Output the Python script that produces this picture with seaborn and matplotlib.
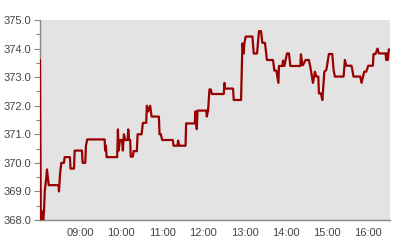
import matplotlib
matplotlib.use("Agg")
import matplotlib.pyplot as plt
import matplotlib.dates as mdates
from matplotlib.ticker import MultipleLocator, FormatStrFormatter
import seaborn as sns
import pandas as pd

# minutes after 08:00
minutes = [1.7, 2.8, 3.9, 5.1, 6.4, 7.6, 8.6, 10.5, 11.9, 14.4, 28.7, 29.4, 30.9, 32.8,
           36.7, 37.7, 45.4, 46.2, 51.3, 52.3, 62.9, 63.9, 67.7, 68.7, 70.6, 96.0, 96.7,
           97.9, 98.9, 114.3, 115.4, 116.4, 118.3, 121.2, 122.6, 124.1, 126.0, 129.5,
           130.4, 131.7, 133.3, 134.0, 137.2, 138.2, 143.0, 144.1, 149.9, 151.8, 156.6,
           157.6, 159.5, 162.4, 164.5, 175.1, 176.1, 178.0, 179.9, 195.5, 196.5, 202.3,
           203.2, 204.7, 214.0, 214.9, 227.5, 228.5, 230.4, 231.5, 244.3, 245.0, 246.9,
           248.9, 250.8, 252.3, 269.8, 270.8, 271.7, 283.3, 284.3, 295.0, 297.0, 298.9,
           299.9, 301.8, 311.6, 313.5, 318.3, 321.2, 324.1, 326.1, 329.9, 332.8, 341.6,
           343.6, 346.5, 349.5, 350.3, 355.3, 356.2, 358.2, 362.0, 364.9, 366.9, 381.5,
           382.4, 384.4, 385.3, 389.2, 394.0, 396.9, 399.9, 402.8, 404.8, 407.7, 408.6,
           411.5, 413.6, 416.5, 419.4, 423.2, 428.1, 430.0, 431.9, 444.6, 446.5, 448.5,
           456.2, 459.1, 468.9, 470.8, 474.7, 477.6, 480.6, 487.3, 488.3, 491.2, 494.1,
           496.0, 505.8, 506.8, 507.9, 509.1, 510.6, 512.3]
prices = [373.6, 368.1, 368.0, 368.3, 368.0, 368.3, 369.0, 369.4, 369.77, 369.22, 369.22,
          369.0, 369.6, 370.0, 370.0, 370.2, 370.2, 369.8, 369.8, 370.43, 370.43, 370.0,
          370.0, 370.6, 370.82, 370.82, 370.43, 370.6, 370.2, 370.2, 371.17, 370.43, 370.8,
          370.8, 370.43, 371.0, 370.8, 370.8, 371.17, 370.8, 370.8, 370.22, 370.22, 370.41,
          370.41, 371.0, 371.0, 371.4, 371.4, 372.0, 371.8, 372.0, 371.62, 371.62, 371.0,
          371.0, 370.8, 370.8, 370.6, 370.6, 370.78, 370.6, 370.6, 371.38, 371.38, 371.8,
          371.18, 371.83, 371.83, 371.62, 371.83, 372.57, 372.57, 372.41, 372.41, 372.8,
          372.6, 372.6, 372.2, 372.2, 374.18, 373.83, 374.2, 374.42, 374.42, 373.83, 373.83,
          374.61, 374.61, 374.2, 374.2, 373.6, 373.6, 373.23, 373.23, 372.8, 373.39, 373.39,
          373.58, 373.39, 373.83, 373.83, 373.39, 373.39, 373.8, 373.42, 373.42, 373.6,
          373.6, 373.25, 372.8, 373.19, 373.02, 373.02, 372.43, 372.43, 372.2, 373.19,
          373.25, 373.81, 373.81, 373.25, 373.02, 373.02, 373.6, 373.4, 373.4, 373.02,
          373.02, 372.8, 373.19, 373.19, 373.4, 373.4, 373.81, 373.81, 374.0, 373.83,
          373.83, 373.6, 373.83, 373.6, 373.97, 373.97]

y_min, y_max = 368.0, 375.0

base = pd.Timestamp("2024-01-02 08:00")
df = pd.DataFrame({"time": [base + pd.Timedelta(minutes=m) for m in minutes],
                   "price": prices})

sns.set_style("white")
plt.rcParams["font.family"] = ["Liberation Sans", "DejaVu Sans"]

fig = plt.figure(figsize=(4, 2.4), dpi=100)
ax = fig.add_axes([0.1, 0.0833, 0.875, 0.8334])
ax.set_facecolor("#e3e3e3")

sns.lineplot(data=df, x="time", y="price", ax=ax, color="#990000", linewidth=1.6,
             zorder=3)

ax.set_xlim(df["time"].iloc[0], df["time"].iloc[-1])
ax.set_ylim(y_min, y_max)
ax.set_xlabel("")
ax.set_ylabel("")

ax.xaxis.set_major_locator(mdates.HourLocator(byhour=range(9, 17)))
ax.xaxis.set_major_formatter(mdates.DateFormatter("%H:%M"))
ax.yaxis.set_major_locator(MultipleLocator(1.0))
ax.yaxis.set_minor_locator(MultipleLocator(0.5))
ax.yaxis.set_major_formatter(FormatStrFormatter("%.1f"))

ax.tick_params(axis="x", length=0, pad=6, labelsize=8, labelcolor="#444444")
ax.tick_params(axis="y", which="major", length=4, width=0.8, color="#888888",
               pad=2, labelsize=8, labelcolor="#444444", left=True)
ax.tick_params(axis="y", which="minor", length=3, width=0.8, color="#888888", left=True)

for s in ["top", "right"]:
    ax.spines[s].set_visible(False)
for s in ["left", "bottom"]:
    ax.spines[s].set_color("#888888")
    ax.spines[s].set_linewidth(1.0)
    ax.spines[s].set_zorder(2)
ax.grid(False)

fig.savefig("out.png", dpi=100, facecolor="white")
